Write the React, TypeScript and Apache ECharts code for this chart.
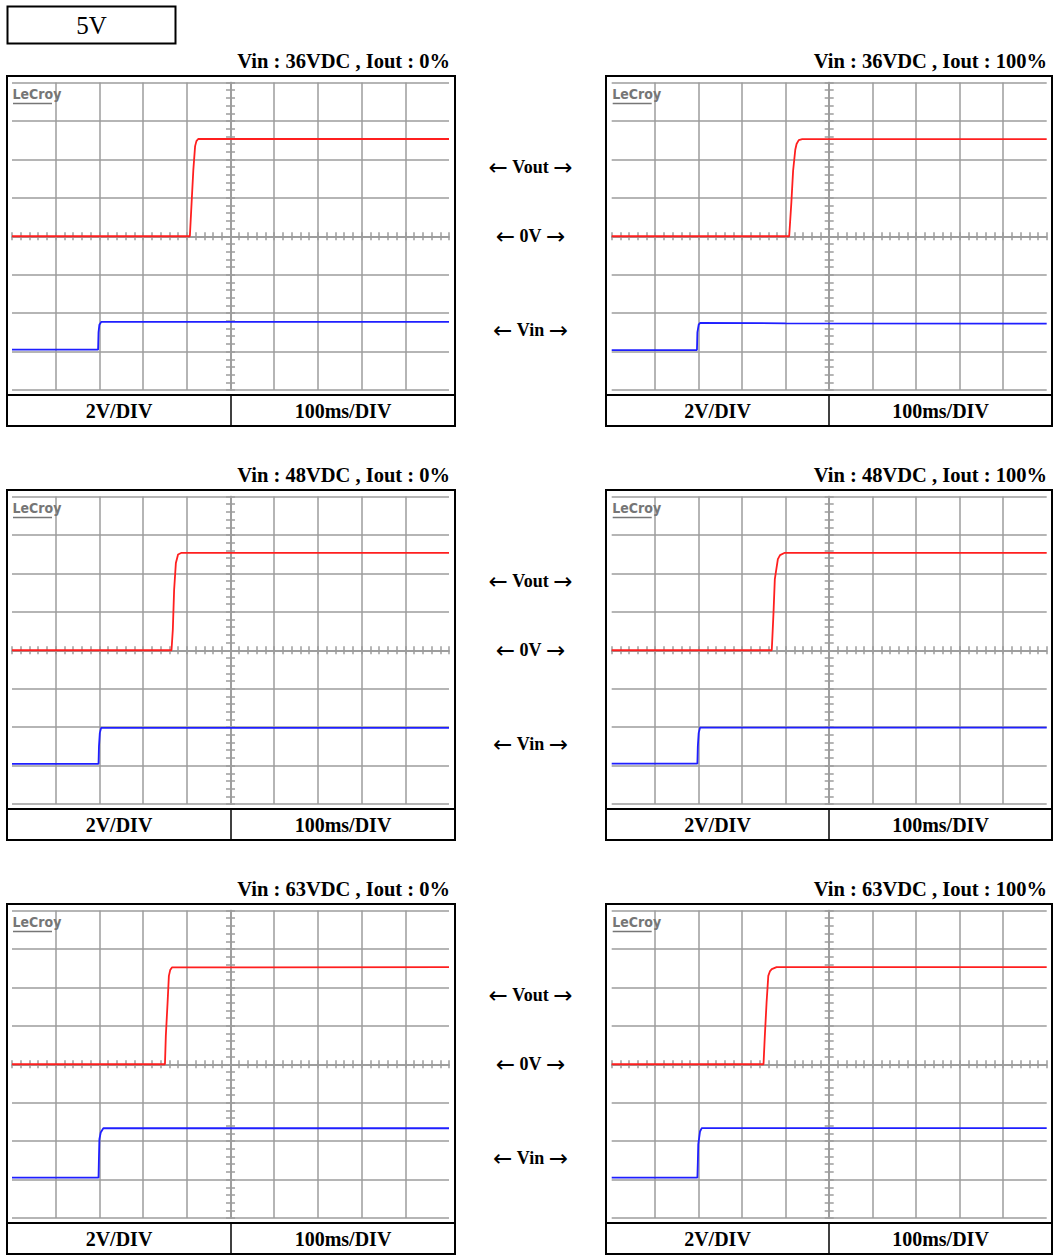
import React, { useEffect, useRef } from "react";
import * as echarts from "echarts";

// Start-up waveforms of a 5 V output converter, six captures at 2 V/div, 100 ms/div.
// Time is in ms relative to the trigger (screen centre), voltage in volts.

const MODULE_LABEL = "5V";
const TITLES = [
  "Vin : 36VDC , Iout : 0%",
  "Vin : 36VDC , Iout : 100%",
  "Vin : 48VDC , Iout : 0%",
  "Vin : 48VDC , Iout : 100%",
  "Vin : 63VDC , Iout : 0%",
  "Vin : 63VDC , Iout : 100%",
];
const VOLT_DIV_LABEL = "2V/DIV";
const TIME_DIV_LABEL = "100ms/DIV";
const ROW_MARKERS = ["Vout", "0V", "Vin"];
const ROW_MARKER_LEVELS = [3.6, 0, -4.87]; // volts where each side marker sits

// Vout traces (red)
const vout36Load0: [number, number][] = [[-500, 0], [-93, 0], [-89, 1.75], [-85, 3.47], [-81, 4.69], [-78, 4.95], [-74, 5.06], [500, 5.06]];
const vout36Load100: [number, number][] = [[-500, 0], [-92, 0], [-87, 1.75], [-83, 3.4], [-78, 4.5], [-75, 4.8], [-70, 5.0], [-62, 5.05], [500, 5.05]];
const vout48Load0: [number, number][] = [[-500, 0], [-135, 0], [-132, 1.07], [-129, 3.15], [-125, 4.54], [-120, 4.98], [-112, 5.07], [500, 5.07]];
const vout48Load100: [number, number][] = [[-500, 0], [-132, 0], [-128, 1.96], [-125, 3.7], [-118, 4.74], [-113, 4.95], [-102, 5.07], [500, 5.07]];
const vout63Load0: [number, number][] = [[-500, 0], [-150, 0], [-148, 1.47], [-144, 3.2], [-141, 4.6], [-138, 4.9], [-134, 5.04], [500, 5.05]];
const vout63Load100: [number, number][] = [[-500, 0], [-151, 0], [-148, 1.47], [-144, 3.2], [-140, 4.6], [-136, 4.85], [-132, 4.95], [-121, 5.05], [500, 5.05]];

// Vin traces (blue)
const vin36Load0: [number, number][] = [[-500, -5.9], [-303, -5.9], [-302, -5.0], [-300, -4.6], [-296, -4.46], [500, -4.46]];
const vin36Load100: [number, number][] = [[-500, -5.92], [-304, -5.92], [-303, -5.0], [-300, -4.6], [-297, -4.51], [-100, -4.53], [500, -4.55]];
const vin48Load0: [number, number][] = [[-500, -5.91], [-302, -5.91], [-301, -5.0], [-299, -4.3], [-296, -4.04], [500, -4.04]];
const vin48Load100: [number, number][] = [[-500, -5.9], [-303, -5.9], [-302, -5.0], [-300, -4.3], [-297, -4.03], [500, -4.03]];
const vin63Load0: [number, number][] = [[-500, -5.9], [-302, -5.9], [-301, -4.8], [-300, -3.9], [-297, -3.55], [-291, -3.33], [500, -3.33]];
const vin63Load100: [number, number][] = [[-500, -5.9], [-303, -5.9], [-302, -5.1], [-301, -4.17], [-297, -3.5], [-293, -3.32], [500, -3.32]];

const VOUT_TRACES = [vout36Load0, vout36Load100, vout48Load0, vout48Load100, vout63Load0, vout63Load100];
const VIN_TRACES = [vin36Load0, vin36Load100, vin48Load0, vin48Load100, vin63Load0, vin63Load100];

// Screen scales
const T_MIN = -500;
const T_MAX = 500;
const T_DIV = 100;
const V_MIN = -8;
const V_MAX = 8;
const V_DIV = 2;

// Page layout
const COLS = [
  { fx: 7, fw: 448, gx: 12, gw: 437 },
  { fx: 606, fw: 446, gx: 611.7, gw: 435 },
];
const ROW_TOP = [76, 490, 904];
const FRAME_H = 350;
const GRID_OFF_Y = 6.5;
const GRID_H = 307.5;
const FOOTER_Y = 319;

const SERIF = '"Liberation Serif", "Times New Roman", "DejaVu Serif", serif';
const ARROW_FONT = '"DejaVu Sans", sans-serif';
const GRID_GRAY = "#9c9c9c";
const BRAND_GRAY = "#767676";
const RED = "#ff1f1f";
const BLUE = "#1f1fff";

function textEl(text: string, x: number, y: number, extra: any = {}) {
  const align = extra.align || "center";
  const vAlign = extra.verticalAlign || "middle";
  return {
    type: "text",
    x,
    y,
    z: 10,
    silent: true,
    style: {
      text,
      fill: "#000",
      fontFamily: SERIF,
      fontSize: 20,
      fontWeight: "bold",
      ...extra,
      align,
      textAlign: align,
      verticalAlign: vAlign,
      textVerticalAlign: vAlign,
    },
  };
}

function buildOption() {
  const grids: any[] = [];
  const xAxes: any[] = [];
  const yAxes: any[] = [];
  const series: any[] = [];
  const graphics: any[] = [];

  const lineStyle = { color: GRID_GRAY, width: 1.5 };

  // module label box
  graphics.push({
    type: "rect",
    z: 10,
    shape: { x: 7.5, y: 6.5, width: 168, height: 37 },
    style: { fill: "#fff", stroke: "#000", lineWidth: 2 },
  });
  graphics.push(textEl(MODULE_LABEL, 91.5, 25.5, { fontSize: 25, fontWeight: "normal" }));

  TITLES.forEach((title, i) => {
    const col = COLS[i % 2];
    const fy = ROW_TOP[Math.floor(i / 2)];
    const gy = fy + GRID_OFF_Y;

    grids.push({
      left: col.gx,
      top: gy,
      width: col.gw,
      height: GRID_H,
      containLabel: false,
      outerBoundsMode: "none",
    });

    const xCommon = {
      type: "value",
      gridIndex: i,
      min: T_MIN,
      max: T_MAX,
      interval: T_DIV,
      axisLabel: { show: false },
      axisLine: { show: true, onZero: true, onZeroAxisIndex: 2 * i, lineStyle },
      axisTick: { show: true, length: 4, lineStyle },
      minorTick: { show: true, splitNumber: 5, length: 4, lineStyle },
    };
    xAxes.push({
      ...xCommon,
      position: "bottom",
      splitLine: { show: true, showMinLine: false, showMaxLine: false, lineStyle },
    });
    xAxes.push({ ...xCommon, position: "top", splitLine: { show: false } });

    const yCommon = {
      type: "value",
      gridIndex: i,
      min: V_MIN,
      max: V_MAX,
      interval: V_DIV,
      axisLabel: { show: false },
      axisLine: { show: true, onZero: true, onZeroAxisIndex: 2 * i, lineStyle },
      axisTick: { show: true, length: 4.5, lineStyle },
      minorTick: { show: true, splitNumber: 5, length: 4.5, lineStyle },
    };
    yAxes.push({
      ...yCommon,
      position: "left",
      splitLine: { show: true, showMinLine: true, showMaxLine: true, lineStyle },
    });
    yAxes.push({ ...yCommon, position: "right", splitLine: { show: false } });

    series.push({
      type: "line",
      name: "Vin",
      xAxisIndex: 2 * i,
      yAxisIndex: 2 * i,
      data: VIN_TRACES[i],
      symbol: "none",
      silent: true,
      z: 3,
      lineStyle: { color: BLUE, width: 1.8 },
    });
    series.push({
      type: "line",
      name: "Vout",
      xAxisIndex: 2 * i,
      yAxisIndex: 2 * i,
      data: VOUT_TRACES[i],
      symbol: "none",
      silent: true,
      z: 4,
      lineStyle: { color: RED, width: 1.8 },
    });

    // instrument frame and footer cells
    graphics.push({
      type: "rect",
      z: 10,
      silent: true,
      shape: { x: col.fx, y: fy, width: col.fw, height: FRAME_H },
      style: { fill: "none", stroke: "#000", lineWidth: 2 },
    });
    graphics.push({
      type: "line",
      z: 10,
      silent: true,
      shape: { x1: col.fx, y1: fy + FOOTER_Y, x2: col.fx + col.fw, y2: fy + FOOTER_Y },
      style: { stroke: "#000", lineWidth: 2 },
    });
    graphics.push({
      type: "line",
      z: 10,
      silent: true,
      shape: { x1: col.fx + col.fw / 2, y1: fy + FOOTER_Y, x2: col.fx + col.fw / 2, y2: fy + FRAME_H },
      style: { stroke: "#000", lineWidth: 1.5 },
    });
    const footY = fy + (FOOTER_Y + FRAME_H) / 2;
    graphics.push(textEl(VOLT_DIV_LABEL, col.fx + col.fw / 4, footY));
    graphics.push(textEl(TIME_DIV_LABEL, col.fx + (col.fw * 3) / 4, footY));

    // caption above the frame
    graphics.push(textEl(title, col.fx + col.fw - 5, fy - 15, { align: "right", fontSize: 20.5 }));

    // brand mark in the screen corner
    graphics.push(
      textEl("LeCroy", col.gx + 0.5, gy + 11.5, {
        align: "left",
        fontFamily: '"DejaVu Sans Condensed", "DejaVu Sans", sans-serif',
        fontSize: 14,
        fill: BRAND_GRAY,
      })
    );
    graphics.push({
      type: "line",
      z: 10,
      silent: true,
      shape: { x1: col.gx + 1, y1: gy + 21, x2: col.gx + 40, y2: gy + 21 },
      style: { stroke: BRAND_GRAY, lineWidth: 1.6 },
    });
  });

  // side markers between the two columns, placed at their voltage levels
  const midX = (COLS[0].fx + COLS[0].fw + COLS[1].fx) / 2;
  ROW_TOP.forEach((fy) => {
    const gy = fy + GRID_OFF_Y;
    ROW_MARKERS.forEach((label, k) => {
      const y = gy + ((V_MAX - ROW_MARKER_LEVELS[k]) / (V_MAX - V_MIN)) * GRID_H;
      graphics.push({
        type: "text",
        x: midX,
        y,
        z: 10,
        silent: true,
        style: {
          text: `{a|\u2190} {b|${label}} {a|\u2192}`,
          fill: "#000",
          fontFamily: SERIF,
          fontSize: 18,
          fontWeight: "bold",
          align: "center",
          textAlign: "center",
          verticalAlign: "middle",
          textVerticalAlign: "middle",
          rich: {
            a: { fontFamily: ARROW_FONT, fontSize: 23, fontWeight: "normal", fill: "#000", verticalAlign: "middle" },
            b: { fontFamily: SERIF, fontSize: 18, fontWeight: "bold", fill: "#000", verticalAlign: "middle" },
          },
        },
      });
    });
  });

  return {
    animation: false,
    backgroundColor: "#fff",
    grid: grids,
    xAxis: xAxes,
    yAxis: yAxes,
    series,
    graphic: { elements: graphics },
  };
}

export default function App() {
  const ref = useRef<HTMLDivElement>(null);

  useEffect(() => {
    document.body.style.margin = "0";
    document.body.style.overflow = "hidden";
    if (!ref.current) return;
    const chart = echarts.init(ref.current, undefined, { renderer: "svg" });
    chart.setOption(buildOption() as any);
    return () => chart.dispose();
  }, []);

  return <div ref={ref} style={{ width: 1055, height: 1255 }} />;
}
